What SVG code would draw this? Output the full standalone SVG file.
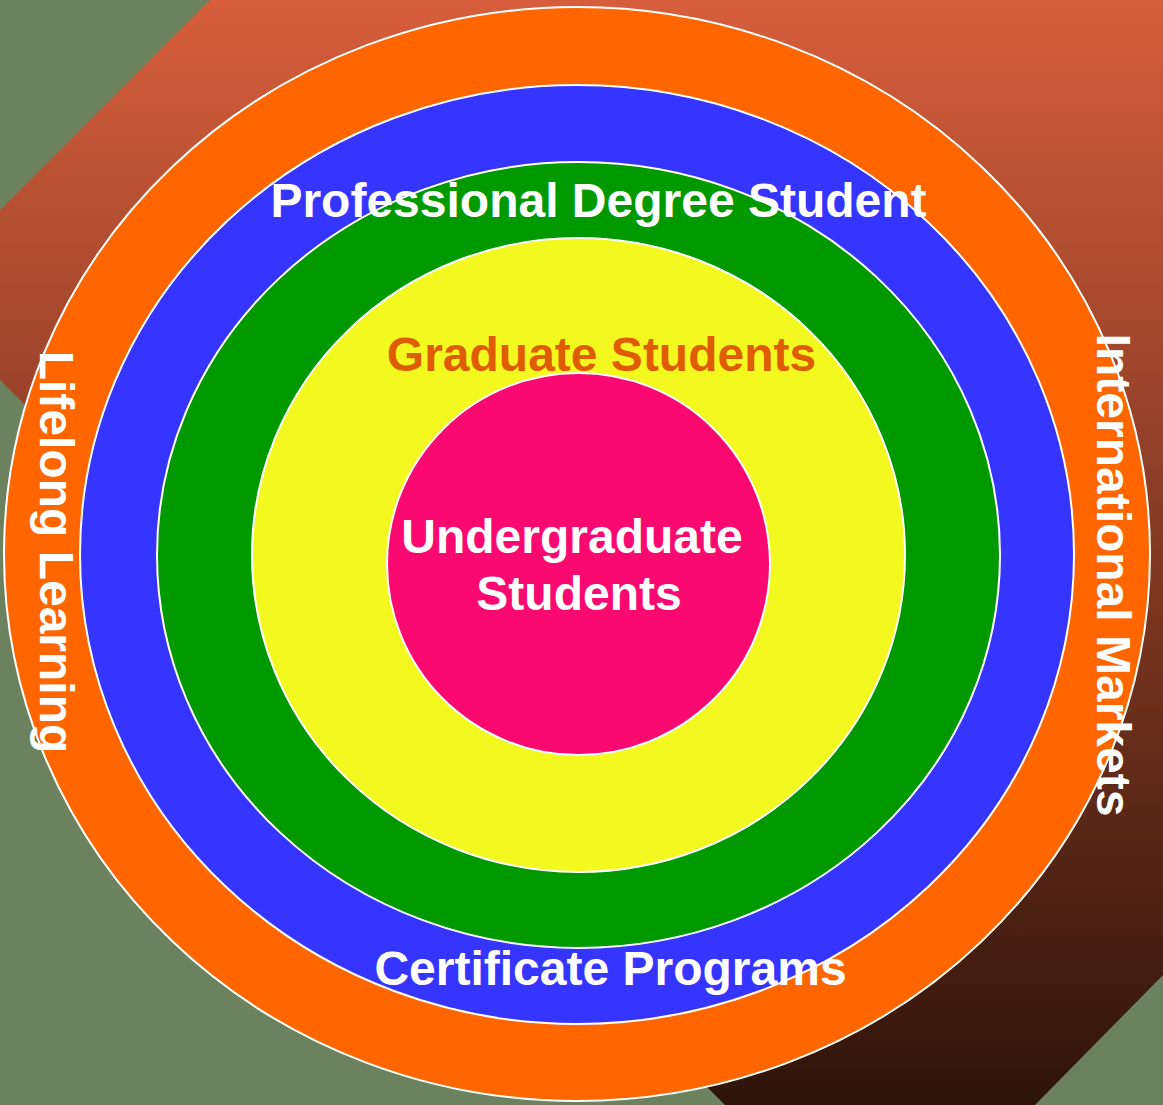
<svg xmlns="http://www.w3.org/2000/svg" width="1163" height="1105" viewBox="0 0 1163 1105">
  <defs>
    <linearGradient id="band" x1="0" y1="0" x2="0" y2="1105" gradientUnits="userSpaceOnUse">
      <stop offset="0" stop-color="#d65e3d"/>
      <stop offset="1" stop-color="#2e1409"/>
    </linearGradient>
  </defs>
  <style>
    .ring { stroke: #ffffff; stroke-width: 2; }
    .lbl { font-family: "Liberation Sans", Arial, sans-serif; font-weight: bold; font-size: 48px; fill: #ffffff; }
  </style>
  <rect id="background" x="0" y="0" width="1163" height="1105" fill="#6c825e"/>
  <polygon id="band-shape" points="210,0 1163,0 1163,975 1035,1105 725,1105 0,380 0,210" fill="url(#band)"/>
  <g id="lifelong-learning">
    <ellipse class="ring" cx="577" cy="554" rx="573" ry="547" fill="#ff6600"/>
  </g>
  <g id="certificate-programs">
    <ellipse class="ring" cx="577" cy="554.5" rx="497" ry="469.5" fill="#3535ff"/>
  </g>
  <g id="professional-degree">
    <ellipse class="ring" cx="578.5" cy="555" rx="421.5" ry="393" fill="#009900"/>
  </g>
  <g id="graduate-students">
    <ellipse class="ring" cx="578.5" cy="555" rx="326.5" ry="317" fill="#f3f81f"/>
  </g>
  <g id="undergraduate-students">
    <ellipse class="ring" cx="578.5" cy="564" rx="191.5" ry="191" fill="#fa0a70"/>
  </g>
  <g id="labels">
    <text class="lbl" x="598.5" y="217" text-anchor="middle">Professional Degree Student</text>
    <text class="lbl" x="601.5" y="371" text-anchor="middle" style="fill:#df5c00">Graduate Students</text>
    <text class="lbl" x="572" y="553" text-anchor="middle">Undergraduate</text>
    <text class="lbl" x="579" y="610" text-anchor="middle">Students</text>
    <text class="lbl" x="610.5" y="985" text-anchor="middle">Certificate Programs</text>
    <text class="lbl" transform="translate(40,552) rotate(90)" text-anchor="middle">Lifelong Learning</text>
    <text class="lbl" transform="translate(1097,575) rotate(90)" text-anchor="middle">International Markets</text>
  </g>
</svg>
